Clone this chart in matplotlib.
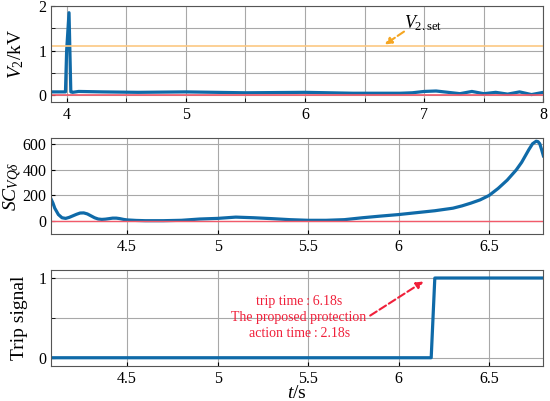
import matplotlib.pyplot as plt
from matplotlib.ticker import MultipleLocator, FormatStrFormatter

plt.rcParams['font.family'] = ['Liberation Serif', 'DejaVu Serif']
plt.rcParams['mathtext.fontset'] = 'custom'
plt.rcParams['mathtext.rm'] = 'Liberation Serif'
plt.rcParams['mathtext.it'] = 'Liberation Serif:italic'

# top panel: V2 (kV)
t1 = [3.87, 3.99, 4.0, 4.02, 4.035, 4.05, 4.1, 4.3, 4.6, 5.0, 5.5, 6.0, 6.4, 6.8, 6.9,
      7.0, 7.1, 7.2, 7.3, 7.4, 7.5, 7.6, 7.7, 7.8, 7.9, 8.0]
v2 = [0.07, 0.07, 1.0, 1.85, 0.07, 0.06, 0.08, 0.07, 0.06, 0.07, 0.05, 0.06, 0.04, 0.04, 0.05,
      0.08, 0.09, 0.06, 0.03, 0.08, 0.03, 0.06, 0.02, 0.07, 0.01, 0.06]
v2_set = 1.1

# middle panel: SC_VQdelta
t2 = [4.08, 4.09, 4.1, 4.12, 4.14, 4.16, 4.18, 4.2, 4.22, 4.24, 4.26, 4.28, 4.3, 4.32,
      4.34, 4.36, 4.38, 4.4, 4.42, 4.44, 4.46, 4.48, 4.5, 4.55, 4.6, 4.7, 4.8,
      4.9, 5.0, 5.1, 5.2, 5.3, 5.4, 5.5, 5.6, 5.7, 5.8, 5.9, 6.0, 6.1, 6.2, 6.3, 6.35, 6.4,
      6.45, 6.5, 6.55, 6.6, 6.65, 6.68, 6.7, 6.72, 6.74, 6.76, 6.77, 6.78, 6.79, 6.8]
sc = [170, 140, 100, 50, 25, 20, 28, 40, 52, 62, 63, 55, 40, 25,
      15, 12, 14, 18, 22, 22, 18, 12, 8, 4, 2, 2, 5,
      15, 20, 30, 25, 18, 10, 5, 5, 10, 25, 38, 50, 65, 80, 100, 118, 140,
      165, 200, 255, 320, 400, 460, 510, 560, 605, 625, 622, 605, 560, 510]

# bottom panel: trip signal
t3 = [4.08, 6.18, 6.2, 6.8]
trip = [0, 0, 1, 1]

blue = '#0f6aa8'
red = '#f25a6a'

fig, axes = plt.subplots(3, 1, figsize=(5.5, 4.01), dpi=100)
plt.subplots_adjust(left=0.093, right=0.988, top=0.985, bottom=0.088, hspace=0.38)
ax1, ax2, ax3 = axes

for ax in axes:
    ax.grid(True, which='both', color='#a8a8a8', linewidth=0.8)
    ax.tick_params(direction='in', labelsize=11.5, length=3, which='both')
    ax.set_axisbelow(True)
    ax.xaxis.set_major_formatter(FormatStrFormatter('%g'))
    for s in ax.spines.values():
        s.set_color('#555555')

ax1.plot(t1, v2, color=blue, linewidth=2.3)
ax1.axhline(v2_set, color='#fcc883', linewidth=1.2)
ax1.axhline(0, color=red, linewidth=1.2)
ax1.set_xlim(3.87, 8)
ax1.set_ylim(-0.15, 2)
ax1.xaxis.set_major_locator(MultipleLocator(1))
ax1.xaxis.set_minor_locator(MultipleLocator(0.5))
ax1.yaxis.set_major_locator(MultipleLocator(1))
ax1.yaxis.set_minor_locator(MultipleLocator(0.5))
ax1.set_ylabel('$V_2$/kV', fontsize=14)
ax1.yaxis.set_label_coords(-0.051, 0.5)
ax1.annotate('', xy=(6.65, 1.1), xytext=(6.85, 1.46),
             arrowprops=dict(arrowstyle='-|>', color='#f5a623', linestyle='--', lw=1.5))
ax1.text(6.83, 1.5, '$V_{2\\mathrm{.set}}$', fontsize=13)

ax2.plot(t2, sc, color=blue, linewidth=2.3)
ax2.axhline(0, color=red, linewidth=1.0)
ax2.set_xlim(4.08, 6.8)
ax2.set_ylim(-100, 650)
ax2.xaxis.set_major_locator(MultipleLocator(0.5))
ax2.yaxis.set_major_locator(MultipleLocator(200))
ax2.set_ylabel('$SC_{VQ\\delta}$', fontsize=14)
ax2.yaxis.set_label_coords(-0.056, 0.5)

ax3.plot(t3, trip, color=blue, linewidth=2.3)
ax3.set_xlim(4.08, 6.8)
ax3.set_ylim(-0.1, 1.1)
ax3.xaxis.set_major_locator(MultipleLocator(0.5))
ax3.yaxis.set_major_locator(MultipleLocator(1))
ax3.yaxis.set_minor_locator(MultipleLocator(0.5))
ax3.set_ylabel('Trip signal', fontsize=14)
ax3.yaxis.set_label_coords(-0.047, 0.5)
ax3.set_xlabel('$t$/s', fontsize=14, labelpad=-1)
ax3.text(5.45, 0.51, 'trip time\u2009:\u20096.18s\nThe proposed protection\naction time\u2009:\u20092.18s',
         color='#f0203a', fontsize=10, ha='center', va='center', linespacing=1.3)
ax3.annotate('', xy=(6.15, 0.975), xytext=(5.83, 0.51),
             arrowprops=dict(arrowstyle='-|>', color='#f0203a', linestyle='--', lw=1.5))

fig.savefig('out.png', dpi=100)
